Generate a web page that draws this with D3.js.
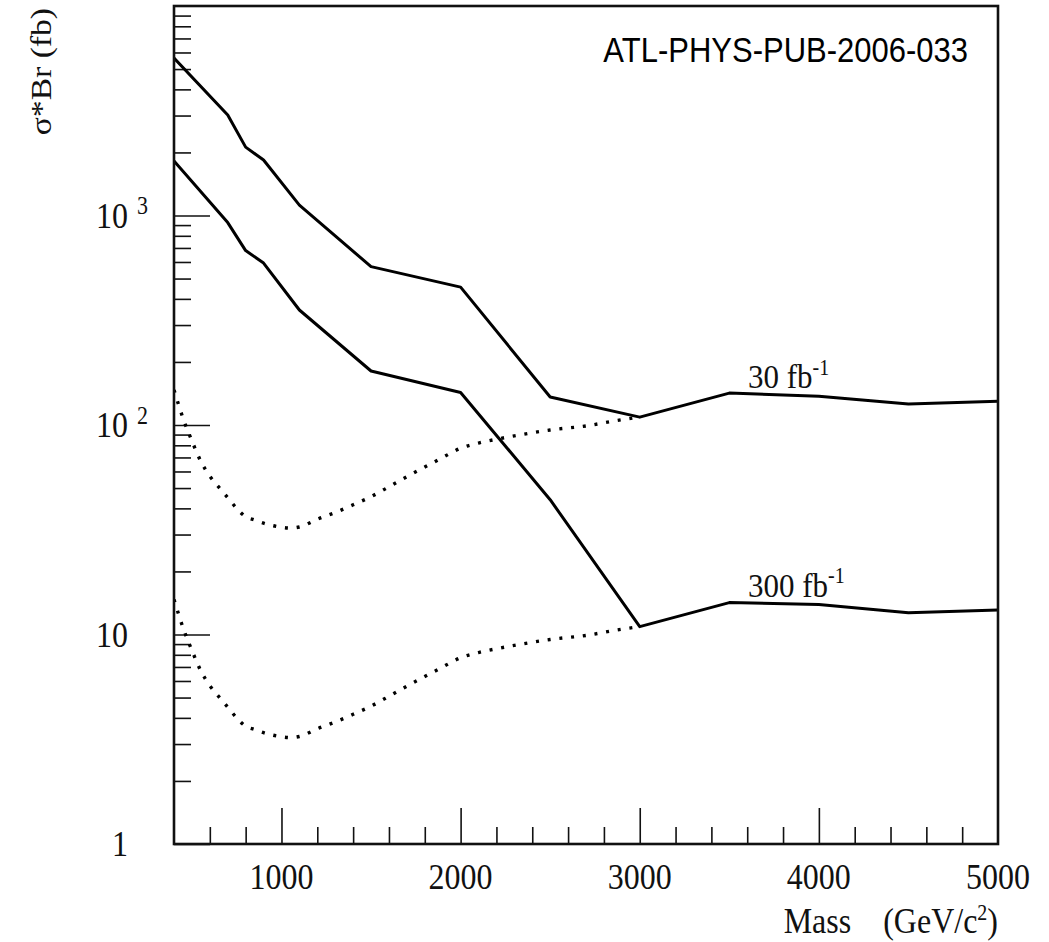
<!DOCTYPE html>
<html lang="en">
<head>
<meta charset="UTF-8">
<script src="https://d3js.org/d3.v7.min.js"></script>
<style>
body { margin: 0; background: #fff; }
.serif { font-family: "Liberation Serif", "DejaVu Serif", serif; fill: #111; }
.sans { font-family: "Liberation Sans", Arial, sans-serif; fill: #000; }
.limit { fill: none; stroke: #000; stroke-width: 3; stroke-linejoin: round; }
.signal { fill: none; stroke: #000; stroke-width: 3.4; stroke-dasharray: 3 8.8; }
.ticks line { stroke: #111; stroke-width: 1.6; }
.ticks .domain { display: none; }
</style>
</head>
<body>
<svg class="chart"></svg>
<script>
// discovery limits (solid) for 30 and 300 fb-1
const limitMass = [400, 700, 800, 900, 1100, 1500, 2000, 2500, 3000, 3500, 4000, 4500, 5000];
const limit30 = [5650, 3020, 2120, 1840, 1120, 570, 455, 136, 109, 142, 137, 126, 130];
const limit300 = [1820, 925, 680, 593, 354, 181, 143, 44, 10.9, 14.2, 13.9, 12.7, 13.1];

// expected signal (dotted)
const signalMass = [400, 450, 500, 550, 600, 650, 700, 750, 800, 850, 900, 1000, 1050, 1100, 1200,
  1300, 1400, 1500, 1600, 1700, 1800, 1900, 2000, 2100, 2200, 2300, 2500, 2700, 2900, 3000];
const signal30 = [147, 108, 84, 67, 57, 50.5, 45, 40, 36.5, 35.2, 34, 32.5, 32.2, 32.6, 35.5,
  38.2, 41.6, 45.5, 50.7, 56.7, 63, 70, 77.5, 82, 85.5, 88.7, 94.7, 99, 106, 109];
const signal300 = [14.7, 10.8, 8.4, 6.7, 5.7, 5.05, 4.5, 4.0, 3.65, 3.52, 3.4, 3.25, 3.22, 3.26, 3.55,
  3.82, 4.16, 4.55, 5.07, 5.67, 6.3, 7.0, 7.75, 8.2, 8.55, 8.87, 9.47, 9.9, 10.6, 10.9];

const xMajor = [1000, 2000, 3000, 4000, 5000];
const yMajor = [1, 10, 100, 1000];
const yLabels = [['1', ''], ['10', ''], ['10', '2'], ['10', '3']];

let W = 1049, H = 942;
let margin = { top: 6, right: 51, bottom: 98, left: 174 },
    width = W - margin.left - margin.right,
    height = H - margin.top - margin.bottom;

let svg = d3.select('.chart').attr('width', W).attr('height', H);
let chart = svg.append('g')
    .attr('transform', 'translate(' + margin.left + ',' + margin.top + ')');

let x = d3.scaleLinear().domain([400, 5000]).range([0, width]);
let y = d3.scaleLog().domain([1, 10000]).range([height, 0]);

// minor / major tick values
let xMinor = d3.range(600, 5000, 200).filter(v => v % 1000 !== 0);
let yMinor = [];
[1, 10, 100, 1000].forEach(d => { for (let k = 2; k <= 9; k++) yMinor.push(d * k); });

// ticks drawn inside the frame
chart.append('g').attr('class', 'ticks')
    .attr('transform', 'translate(0,' + height + ')')
    .call(d3.axisTop(x).tickValues(xMinor).tickSize(17).tickFormat(''));
chart.append('g').attr('class', 'ticks')
    .attr('transform', 'translate(0,' + height + ')')
    .call(d3.axisTop(x).tickValues(xMajor.slice(0, 4)).tickSize(36).tickFormat(''));
chart.append('g').attr('class', 'ticks')
    .call(d3.axisRight(y).tickValues(yMinor).tickSize(17).tickFormat(''));
chart.append('g').attr('class', 'ticks')
    .call(d3.axisRight(y).tickValues(yMajor).tickSize(36).tickFormat(''));

// clip to plotting area
svg.append('defs').append('clipPath').attr('id', 'plot')
    .append('rect').attr('width', width).attr('height', height);

let plot = chart.append('g').attr('clip-path', 'url(#plot)');

let line = d3.line().x(d => x(d[0])).y(d => y(d[1]));
let smooth = d3.line().x(d => x(d[0])).y(d => y(d[1])).curve(d3.curveMonotoneX);

plot.append('path').attr('class', 'signal')
    .attr('d', smooth(d3.zip(signalMass, signal30)));
plot.append('path').attr('class', 'signal')
    .attr('d', smooth(d3.zip(signalMass, signal300)));
plot.append('path').attr('class', 'limit')
    .attr('d', line(d3.zip(limitMass, limit30)));
plot.append('path').attr('class', 'limit')
    .attr('d', line(d3.zip(limitMass, limit300)));

// frame
chart.append('rect')
    .attr('width', width).attr('height', height)
    .attr('fill', 'none').attr('stroke', '#111').attr('stroke-width', 2.6);

// text is slightly taller than wide in the original
const sy = 1.12;
let label = (g, px, py, anchor, cls, size) => g.append('text')
    .attr('class', cls)
    .attr('text-anchor', anchor)
    .attr('font-size', size)
    .attr('transform', 'translate(' + px + ',' + py + ') scale(1,' + sy + ')');

// x tick labels
xMajor.forEach(v => {
    label(chart, x(v), height + 45, 'middle', 'serif', 32).text(v);
});

// y tick labels
yMajor.forEach((v, i) => {
    let t = label(svg, 128, margin.top + y(v) + 12, 'end', 'serif', 32);
    t.append('tspan').text(yLabels[i][0]);
    if (yLabels[i][1]) {
        t.attr('text-anchor', 'start').attr('transform',
            'translate(' + (128 - 32) + ',' + (margin.top + y(v) + 12) + ') scale(1,' + sy + ')');
        t.append('tspan').attr('dx', 9).attr('dy', -12).attr('font-size', 22).text(yLabels[i][1]);
    }
});

// axis titles
let mt = label(svg, 998, 933, 'end', 'serif', 32);
mt.append('tspan').text('Mass ');
mt.append('tspan').attr('dx', 24).text('(GeV/c');
mt.append('tspan').attr('dy', -12).attr('font-size', 20).text('2');
mt.append('tspan').attr('dy', 12).text(')');

svg.append('text')
    .attr('class', 'serif')
    .attr('font-size', 30)
    .attr('text-anchor', 'end')
    .attr('transform', 'translate(51,8) rotate(-90) scale(' + sy + ',1)')
    .text('σ*Br (fb)');

// document reference
label(chart, 968 - margin.left, 62 - margin.top, 'end', 'sans', 31).text('ATL-PHYS-PUB-2006-033');

// luminosity labels
[[limit30, '30 fb'], [limit300, '300 fb']].forEach(s => {
    let t = label(chart, 748 - margin.left, y(s[0][10]) - 8, 'start', 'serif', 31);
    t.append('tspan').text(s[1]);
    t.append('tspan').attr('dy', -12).attr('font-size', 20).text('-1');
});
</script>
</body>
</html>
